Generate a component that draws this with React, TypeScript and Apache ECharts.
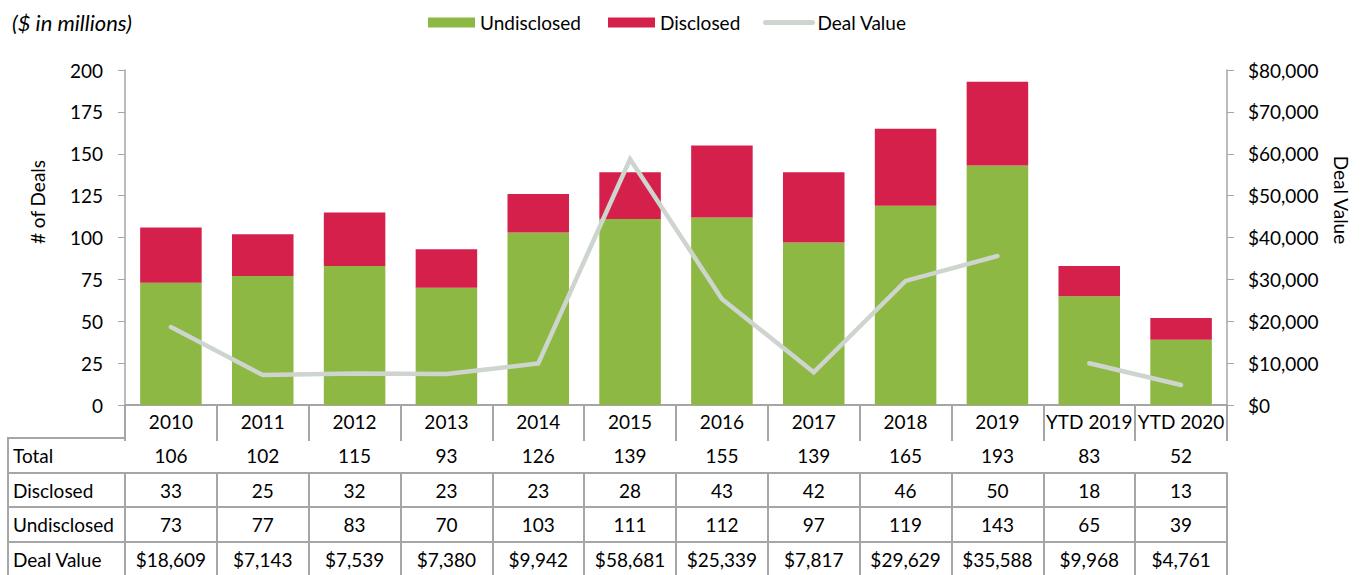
import React, { useEffect, useRef } from "react";
import * as echarts from "echarts";

const categories = ["2010", "2011", "2012", "2013", "2014", "2015", "2016", "2017", "2018", "2019", "YTD 2019", "YTD 2020"];
const undisclosed = [73, 77, 83, 70, 103, 111, 112, 97, 119, 143, 65, 39];
const disclosed = [33, 25, 32, 23, 23, 28, 43, 42, 46, 50, 18, 13];
const totals = [106, 102, 115, 93, 126, 139, 155, 139, 165, 193, 83, 52];
const dealValue = [18609, 7143, 7539, 7380, 9942, 58681, 25339, 7817, 29629, 35588, 9968, 4761];
const isYtd = [false, false, false, false, false, false, false, false, false, false, true, true];
const rowLabels = ["Total", "Disclosed", "Undisclosed", "Deal Value"];
const leftTicks = [0, 25, 50, 75, 100, 125, 150, 175, 200];

const FONT = "Lato, 'Open Sans', sans-serif";
const FS = 19;
const GREEN = "#8DB843";
const RED = "#D6204C";
const LINE = "#CDD5CE";
const BORDER = "#A6A6A6";

const money = (v: number) => "$" + v.toLocaleString("en-US");

export default function App() {
  const ref = useRef<HTMLDivElement>(null);
  useEffect(() => {
    if (!ref.current) return;
    const chart = echarts.init(ref.current, null, { renderer: "svg" });
    const gridTop = 70;
    const gridBottomY = 405;
    const rowOffsets = [33, 68, 102, 137];
    const rowData = [
      totals.map(String),
      disclosed.map(String),
      undisclosed.map(String),
      dealValue.map(money),
    ];
    const tableAxes = rowData.map((d, i) => ({
      type: "category",
      gridIndex: 0,
      position: "bottom",
      offset: rowOffsets[i],
      data: d,
      boundaryGap: true,
      axisLine: { show: true, lineStyle: { color: BORDER, width: 2 } },
      axisTick: { show: true, length: 36, lineStyle: { color: BORDER, width: 2 } },
      axisLabel: { color: "#000", fontSize: FS, fontFamily: FONT, margin: 8, interval: 0 },
    }));
    const graphics: any[] = [];
    rowLabels.forEach((lbl, i) => {
      const y = gridBottomY + rowOffsets[i];
      graphics.push({
        type: "line",
        shape: { x1: 7, y1: y, x2: 125, y2: y },
        style: { stroke: BORDER, lineWidth: 2 },
      });
      graphics.push({
        type: "text",
        x: 13,
        y: y + 17,
        style: { text: lbl, fontSize: FS, fontFamily: FONT, fill: "#000", textVerticalAlign: "middle", textAlign: "left" },
      });
    });
    graphics.push({
      type: "line",
      shape: { x1: 8, y1: gridBottomY + rowOffsets[0], x2: 8, y2: 575 },
      style: { stroke: BORDER, lineWidth: 2 },
    });
    graphics.push({
      type: "text",
      x: 12,
      y: 22,
      style: { text: "($ in millions)", fontSize: 22, fontStyle: "italic", fontFamily: FONT, fill: "#000", textVerticalAlign: "middle" },
    });
    graphics.push({
      type: "text",
      x: 37,
      y: 202,
      rotation: Math.PI / 2,
      style: { text: "# of Deals", fontSize: FS, fontFamily: FONT, fill: "#000", textAlign: "center", textVerticalAlign: "middle" },
    });
    graphics.push({
      type: "text",
      x: 1341,
      y: 200,
      rotation: -Math.PI / 2,
      style: { text: "Deal Value", fontSize: FS, fontFamily: FONT, fill: "#000", textAlign: "center", textVerticalAlign: "middle" },
    });

    const legendBase = {
      top: 8,
      itemWidth: 47,
      itemHeight: 10,
      textStyle: { fontSize: FS, fontFamily: FONT, color: "#000" },
    };

    chart.setOption({
      animation: false,
      textStyle: { fontFamily: FONT },
      grid: { left: 125, right: 137, top: gridTop, bottom: 575 - gridBottomY, containLabel: false },
      legend: [
        { ...legendBase, left: 423, data: [{ name: "Undisclosed", icon: "rect" }] },
        { ...legendBase, left: 603, data: [{ name: "Disclosed", icon: "rect" }] },
        {
          ...legendBase,
          left: 758,
          data: [{ name: "Deal Value", itemStyle: { opacity: 0 }, lineStyle: { width: 5, cap: "round", color: LINE } }],
        },
      ],
      xAxis: [
        {
          type: "category",
          gridIndex: 0,
          position: "bottom",
          data: categories,
          boundaryGap: true,
          axisLine: { show: true, lineStyle: { color: BORDER, width: 2 } },
          axisTick: { show: true, length: 34, lineStyle: { color: BORDER, width: 2 } },
          axisLabel: { color: "#000", fontSize: FS, fontFamily: FONT, margin: 7, interval: 0 },
        },
        ...tableAxes,
      ],
      yAxis: [
        {
          type: "value",
          min: leftTicks[0],
          max: leftTicks[leftTicks.length - 1],
          interval: 25,
          splitLine: { show: false },
          axisLine: { show: true, lineStyle: { color: BORDER, width: 1.5 } },
          axisTick: { show: true, length: 7, lineStyle: { color: BORDER } },
          axisLabel: { color: "#000", fontSize: FS, fontFamily: FONT, margin: 22 },
        },
        {
          type: "value",
          min: 0,
          max: 80000,
          interval: 10000,
          splitLine: { show: false },
          axisLine: { show: true, lineStyle: { color: BORDER, width: 1.5 } },
          axisTick: { show: true, length: 7, lineStyle: { color: BORDER } },
          axisLabel: { color: "#000", fontSize: FS, fontFamily: FONT, margin: 21, formatter: (v: number) => money(v) },
        },
      ],
      series: [
        {
          name: "Undisclosed",
          type: "bar",
          stack: "deals",
          data: undisclosed,
          barCategoryGap: "33%",
          itemStyle: { color: GREEN },
        },
        {
          name: "Disclosed",
          type: "bar",
          stack: "deals",
          data: disclosed,
          barCategoryGap: "33%",
          itemStyle: { color: RED },
        },
        {
          name: "Deal Value",
          type: "line",
          yAxisIndex: 1,
          data: dealValue.map((v, i) => (isYtd[i] ? "-" : v)),
          symbol: "none",
          lineStyle: { color: LINE, width: 4.5, cap: "round", join: "miter" },
          itemStyle: { color: LINE },
          z: 5,
        },
        {
          name: "Deal Value",
          type: "line",
          yAxisIndex: 1,
          data: dealValue.map((v, i) => (isYtd[i] ? v : "-")),
          symbol: "none",
          lineStyle: { color: LINE, width: 4.5, cap: "round" },
          itemStyle: { color: LINE },
          z: 5,
        },
      ],
      graphic: graphics,
    });
    return () => chart.dispose();
  }, []);
  return <div ref={ref} style={{ position: "fixed", left: 0, top: 0, width: 1364, height: 575, background: "#fff" }} />;
}
